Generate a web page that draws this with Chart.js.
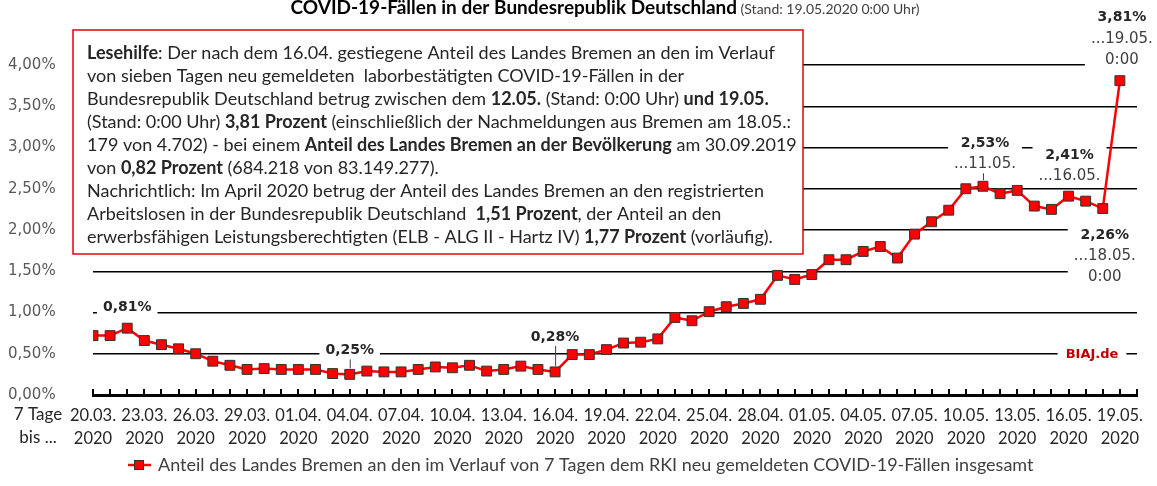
<!DOCTYPE html>
<html lang="de">
<head>
<meta charset="utf-8">
<title>Anteil Bremen an COVID-19-Fällen</title>
<script src="https://cdn.jsdelivr.net/npm/chart.js@4.4.0/dist/chart.umd.min.js"></script>
<style>
  html, body { margin: 0; padding: 0; background: #fff; }
  #wrap { width: 1157px; height: 486px; }
</style>
</head>
<body>
<div id="wrap"><canvas id="bremenChart" width="1157" height="486"></canvas></div>
<script>
// 7-Tage-Zeitraeume bis ... (20.03. - 19.05.2020)
const dayLabels = [
  '20.03.', '21.03.', '22.03.', '23.03.', '24.03.', '25.03.', '26.03.', '27.03.', '28.03.', '29.03.', '30.03.', '31.03.',
  '01.04.', '02.04.', '03.04.', '04.04.', '05.04.', '06.04.', '07.04.', '08.04.', '09.04.', '10.04.',
  '11.04.', '12.04.', '13.04.', '14.04.', '15.04.', '16.04.', '17.04.', '18.04.', '19.04.', '20.04.',
  '21.04.', '22.04.', '23.04.', '24.04.', '25.04.', '26.04.', '27.04.', '28.04.', '29.04.', '30.04.',
  '01.05.', '02.05.', '03.05.', '04.05.', '05.05.', '06.05.', '07.05.', '08.05.', '09.05.', '10.05.',
  '11.05.', '12.05.', '13.05.', '14.05.', '15.05.', '16.05.', '17.05.', '18.05.', '19.05.'
];
const yearLabel = '2020';

// Anteil Bremen in Prozent
const shareValues = [
  0.72, 0.72, 0.81, 0.66, 0.61, 0.56, 0.50, 0.41, 0.36, 0.31, 0.32, 0.31,
  0.31, 0.31, 0.26, 0.25, 0.29, 0.28, 0.28, 0.31, 0.34, 0.33,
  0.36, 0.29, 0.31, 0.35, 0.31, 0.28, 0.49, 0.49, 0.55, 0.63,
  0.64, 0.68, 0.94, 0.90, 1.01, 1.07, 1.11, 1.16, 1.45, 1.40,
  1.46, 1.64, 1.64, 1.74, 1.80, 1.66, 1.95, 2.10, 2.24, 2.50,
  2.53, 2.44, 2.48, 2.29, 2.25, 2.41, 2.35, 2.26, 3.81
];

const seriesLabel = 'Anteil des Landes Bremen an den im Verlauf von 7 Tagen dem RKI neu gemeldeten COVID-19-Fällen insgesamt';
const titleBold = 'COVID-19-Fällen in der Bundesrepublik Deutschland';
const titleNormal = ' (Stand: 19.05.2020 0:00 Uhr)';

// Lesehilfe box, [text, bold]
const noteLines = [
  [['Lesehilfe', true], [': Der nach dem 16.04. gestiegene Anteil des Landes Bremen an den im Verlauf', false]],
  [['von sieben Tagen neu gemeldeten  laborbestätigten COVID-19-Fällen in der', false]],
  [['Bundesrepublik Deutschland betrug zwischen dem ', false], ['12.05.', true], [' (Stand: 0:00 Uhr) ', false], ['und 19.05.', true]],
  [['(Stand: 0:00 Uhr) ', false], ['3,81 Prozent', true], [' (einschließlich der Nachmeldungen aus Bremen am 18.05.:', false]],
  [['179 von 4.702) - bei einem ', false], ['Anteil des Landes Bremen an der Bevölkerung', true], [' am 30.09.2019', false]],
  [['von ', false], ['0,82 Prozent', true], [' (684.218 von 83.149.277).', false]],
  [['Nachrichtlich: Im April 2020 betrug der Anteil des Landes Bremen an den registrierten', false]],
  [['Arbeitslosen in der Bundesrepublik Deutschland  ', false], ['1,51 Prozent', true], [', der Anteil an den', false]],
  [['erwerbsfähigen Leistungsberechtigten (ELB - ALG II - Hartz IV) ', false], ['1,77 Prozent', true], [' (vorläufig).', false]]
];

const SANS = 'Lato, "Open Sans", sans-serif';
const VERD = '"DejaVu Sans", Verdana, sans-serif';
const RED = '#ff0000';

const fmtPct = (v) => v.toFixed(2).replace('.', ',') + '%';

// labelled points: index, offset from point, extra lines
const pointNotes = [
  { idx: 2, dx: 0, dy: -21, date: false, time: false, leader: false },
  { idx: 15, dx: 0, dy: -24, date: false, time: false, leader: true },
  { idx: 27, dx: 0, dy: -35, date: false, time: false, leader: true },
  { idx: 52, dx: 2, dy: -43, date: true, time: false, leader: true },
  { idx: 57, dx: 1, dy: -41, date: true, time: false, leader: false },
  { idx: 59, dx: 2, dy: 27, date: true, time: true, leader: false },
  { idx: 60, dx: 2, dy: -63, date: true, time: true, leader: false }
];

const decorPlugin = {
  id: 'decor',
  beforeDatasetsDraw(chart) {
    const { ctx, chartArea, scales: { x, y } } = chart;
    ctx.save();

    // upward tick marks on the x axis
    ctx.strokeStyle = '#000';
    ctx.lineWidth = 2;
    x.ticks.forEach((t) => {
      const px = Math.round(x.getPixelForValue(t.value));
      ctx.beginPath();
      ctx.moveTo(px, chartArea.bottom);
      ctx.lineTo(px, chartArea.bottom - 6);
      ctx.stroke();
    });

    // Lesehilfe box
    ctx.fillStyle = '#fff';
    ctx.fillRect(73, 30, 730, 224);
    ctx.strokeStyle = '#e8000b';
    ctx.lineWidth = 1.5;
    ctx.strokeRect(73, 30, 730, 224);

    ctx.textBaseline = 'middle';
    ctx.textAlign = 'left';
    ctx.fillStyle = '#262626';
    noteLines.forEach((line, li) => {
      let cx = 87;
      const cy = 53 + li * 23;
      line.forEach(([txt, bold]) => {
        ctx.font = (bold ? 'bold ' : '') + '18px ' + SANS;
        ctx.fillText(txt, cx, cy);
        cx += ctx.measureText(txt).width;
      });
    });

    // point labels
    pointNotes.forEach((n) => {
      const px = x.getPixelForValue(n.idx);
      const py = y.getPixelForValue(shareValues[n.idx]);
      const lines = [fmtPct(shareValues[n.idx])];
      if (n.date) lines.push('...' + dayLabels[n.idx]);
      if (n.time) lines.push('0:00');
      const cx = px + n.dx;
      const top = py + n.dy;
      let maxW = 0;
      lines.forEach((l, i) => {
        ctx.font = (i === 0 ? 'bold 14px ' : '15px ') + VERD;
        maxW = Math.max(maxW, ctx.measureText(l).width);
      });
      const bottom = top + (lines.length - 1) * 21;
      ctx.fillStyle = '#fff';
      ctx.fillRect(cx - maxW / 2 - 6, top - 9, maxW + 12, bottom - top + 18);
      ctx.textAlign = 'center';
      lines.forEach((l, i) => {
        ctx.font = (i === 0 ? 'bold 14px ' : '15px ') + VERD;
        ctx.fillStyle = i === 0 ? '#262626' : '#404040';
        ctx.fillText(l, cx, top + i * 21);
      });
      if (n.leader) {
        ctx.strokeStyle = '#404040';
        ctx.lineWidth = 1;
        ctx.beginPath();
        ctx.moveTo(px + 0.5, bottom + 9);
        ctx.lineTo(px + 0.5, py - 6);
        ctx.stroke();
      }
    });

    // source mark
    const by = y.getPixelForValue(0.5);
    ctx.font = 'bold 13px ' + VERD;
    const bw = ctx.measureText('BIAJ.de').width;
    const bx = chartArea.right - 45;
    ctx.fillStyle = '#fff';
    ctx.fillRect(bx - bw / 2 - 8, by - 8, bw + 16, 16);
    ctx.fillStyle = '#c00000';
    ctx.textAlign = 'center';
    ctx.fillText('BIAJ.de', bx, by + 1);

    ctx.restore();
  },
  afterDraw(chart) {
    const { ctx } = chart;
    ctx.save();
    ctx.textBaseline = 'middle';

    // title line
    ctx.font = 'bold 19px ' + SANS;
    const w1 = ctx.measureText(titleBold).width;
    ctx.font = '14px ' + SANS;
    const w2 = ctx.measureText(titleNormal).width;
    const tx = 605 - (w1 + w2) / 2;
    ctx.textAlign = 'left';
    ctx.fillStyle = '#000';
    ctx.font = 'bold 19px ' + SANS;
    ctx.fillText(titleBold, tx, 8);
    ctx.fillStyle = '#404040';
    ctx.font = '14px ' + SANS;
    ctx.fillText(titleNormal, tx + w1, 9);

    // x axis caption
    ctx.textAlign = 'center';
    ctx.fillStyle = '#262626';
    ctx.font = '17px ' + SANS;
    ctx.fillText('7 Tage', 38, 415);
    ctx.fillText('bis ...', 38, 438);

    // legend
    ctx.strokeStyle = RED;
    ctx.lineWidth = 2.5;
    ctx.beginPath();
    ctx.moveTo(128, 465);
    ctx.lineTo(151, 465);
    ctx.stroke();
    ctx.fillStyle = RED;
    ctx.fillRect(134, 460, 10, 10);
    ctx.strokeStyle = '#333';
    ctx.lineWidth = 1;
    ctx.strokeRect(134.5, 460.5, 9, 9);
    ctx.textAlign = 'left';
    ctx.fillStyle = '#404040';
    ctx.font = '18px ' + SANS;
    ctx.fillText(seriesLabel, 158, 465);

    ctx.restore();
  }
};

new Chart('bremenChart', {
  type: 'line',
  data: {
    datasets: [
      {
        label: seriesLabel,
        data: shareValues.map((v, i) => ({ x: i, y: v })),
        borderColor: RED,
        backgroundColor: RED,
        borderWidth: 2.5,
        pointStyle: 'rect',
        pointRadius: 7,
        pointBorderColor: '#333',
        pointBorderWidth: 1,
        pointBackgroundColor: RED,
        tension: 0,
        fill: false,
      },
    ],
  },
  options: {
    responsive: false,
    animation: false,
    devicePixelRatio: 1,
    layout: { padding: { left: 8, right: 20, top: 32, bottom: 0 } },
    scales: {
      x: {
        type: 'linear',
        min: 0,
        max: 61,
        afterFit: (s) => { s.height = 91; },
        grid: { display: false, drawTicks: false },
        border: { display: true, color: '#000', width: 3 },
        ticks: {
          stepSize: 1,
          autoSkip: false,
          maxRotation: 0,
          padding: 9,
          color: '#262626',
          font: { family: SANS, size: 16.5, lineHeight: 1.4 },
          callback: function (value) {
            if (value % 3 === 0 && value < dayLabels.length) {
              return [dayLabels[value], yearLabel];
            }
            return '';
          },
        },
      },
      y: {
        min: 0,
        max: 4.4,
        afterFit: (s) => { s.width = 85; },
        border: { display: false },
        grid: {
          drawTicks: false,
          lineWidth: 1.5,
          color: (c) => (c.tick && c.tick.value > 0 && c.tick.value < 4.01 ? '#000' : 'rgba(0,0,0,0)'),
        },
        ticks: {
          stepSize: 0.5,
          padding: 4,
          crossAlign: 'far',
          color: '#595959',
          font: { family: VERD, size: 15 },
          callback: function (value) {
            if (value > 4.01) return '';
            return fmtPct(value);
          },
        },
      },
    },
    plugins: {
      legend: { display: false },
      tooltip: { enabled: false },
    },
  },
  plugins: [decorPlugin],
});
</script>
</body>
</html>
